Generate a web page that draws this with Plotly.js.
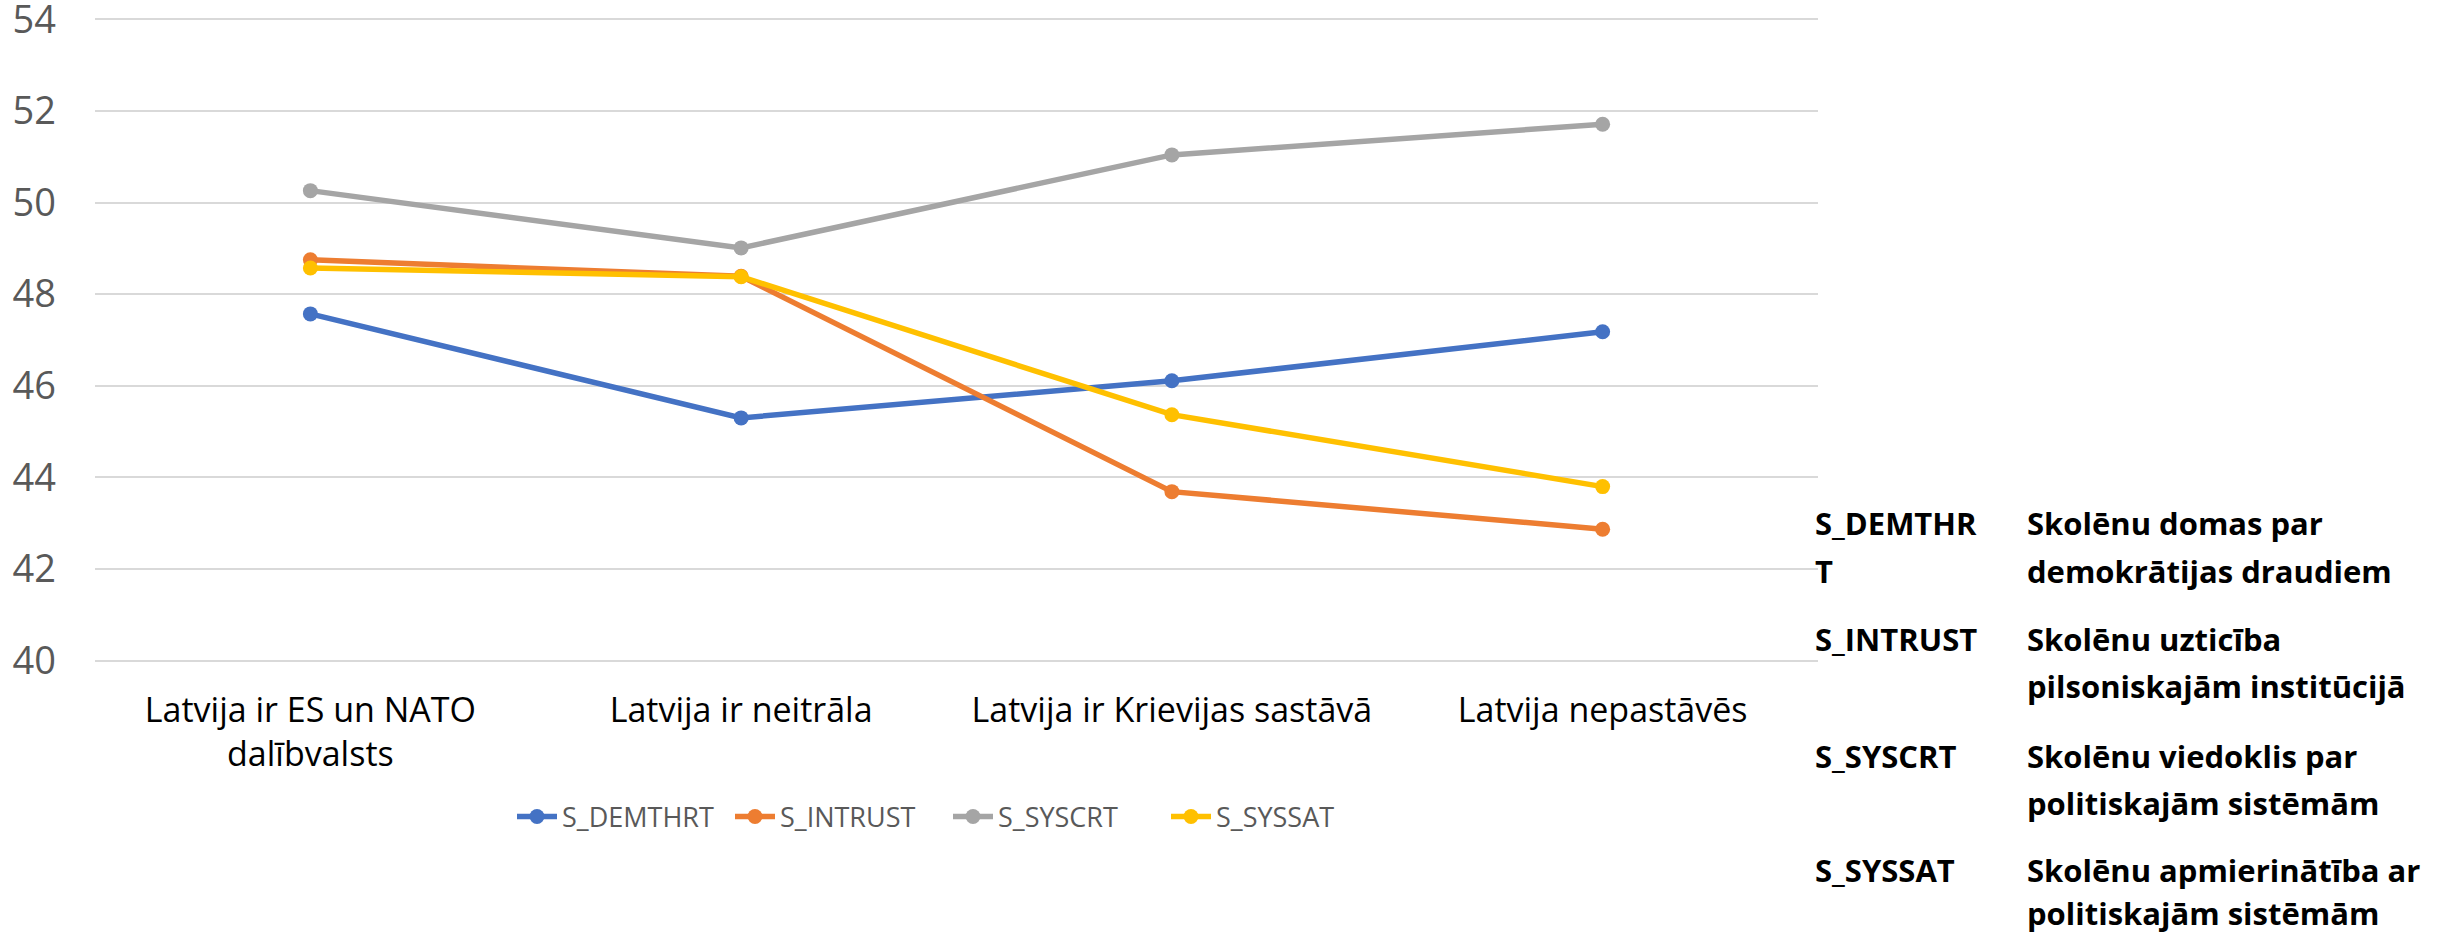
<!DOCTYPE html>
<html>
<head>
<meta charset="utf-8">
<script src="https://cdn.plot.ly/plotly-3.0.1.min.js"></script>
<style>
html,body{margin:0;padding:0;background:#fff;}
#chart{width:2437px;height:935px;}
</style>
</head>
<body>
<div id="chart"></div>
<script>
// ---- data ----
const categories = [
  "Latvija ir ES un NATO<br>dalībvalsts",
  "Latvija ir neitrāla",
  "Latvija ir Krievijas sastāvā",
  "Latvija nepastāvēs"
];
const seriesNames = ["S_DEMTHRT", "S_INTRUST", "S_SYSCRT", "S_SYSSAT"];
const S_DEMTHRT = [47.57, 45.30, 46.11, 47.18];
const S_INTRUST = [48.75, 48.39, 43.69, 42.87];
const S_SYSCRT  = [50.26, 49.01, 51.04, 51.71];
const S_SYSSAT  = [48.57, 48.38, 45.37, 43.80];
const yTicks = [40, 42, 44, 46, 48, 50, 52, 54];

const tableCodes = [["S_DEMTHR", "T"], ["S_INTRUST", ""], ["S_SYSCRT", ""], ["S_SYSSAT", ""]];
const tableDescs = [
  ["Skolēnu domas par", "demokrātijas draudiem"],
  ["Skolēnu uzticība", "pilsoniskajām institūcijā"],
  ["Skolēnu viedoklis par", "politiskajām sistēmām"],
  ["Skolēnu apmierinātība ar", "politiskajām sistēmām"]
];

// ---- styling ----
const colors = ["#4472C4", "#ED7D31", "#A5A5A5", "#FFC000"];
const values = [S_DEMTHRT, S_INTRUST, S_SYSCRT, S_SYSSAT];
const FONT = "'Open Sans', 'Noto Sans', sans-serif";

const W = 2437, H = 935;
const plotL = 95, plotR = 1818, plotT = 17, plotB = 663;
const px2x = p => (p - plotL) / (plotR - plotL);
const px2y = p => (plotB - p) / (plotB - plotT);

const traces = seriesNames.map((n, i) => ({
  type: "scatter",
  mode: "lines+markers",
  name: n,
  x: categories,
  y: values[i],
  line: {color: colors[i], width: 5.5},
  marker: {color: colors[i], size: 15},
  hoverinfo: "skip",
  cliponaxis: false
}));

const annotations = [];
const rowCenters = [[523, 571], [639, 686], [756, 803], [870, 913]];
const tblFont = {family: FONT, size: 31, color: "#000"};
tableCodes.forEach((lines, r) => {
  lines.forEach((t, k) => {
    if (!t) return;
    annotations.push({
      xref: "paper", yref: "paper",
      x: px2x(1813), y: px2y(rowCenters[r][k]),
      xanchor: "left", yanchor: "middle",
      text: "<b>" + t + "</b>", showarrow: false,
      font: tblFont
    });
  });
});
tableDescs.forEach((lines, r) => {
  lines.forEach((t, k) => {
    annotations.push({
      xref: "paper", yref: "paper",
      x: px2x(2025), y: px2y(rowCenters[r][k]),
      xanchor: "left", yanchor: "middle",
      text: "<b>" + t + "</b>", showarrow: false,
      font: tblFont
    });
  });
});

const layout = {
  width: W, height: H,
  paper_bgcolor: "#fff", plot_bgcolor: "#fff",
  margin: {l: plotL, r: W - plotR, t: plotT, b: H - plotB, pad: 0},
  showlegend: true,
  legend: {
    orientation: "h",
    x: px2x(948), xanchor: "center",
    y: px2y(817), yanchor: "middle",
    font: {family: FONT, size: 27, color: "#595959"},
    itemwidth: 40,
    entrywidth: 163,
    traceorder: "normal"
  },
  xaxis: {
    type: "category",
    range: [-0.5, categories.length - 0.5],
    showgrid: false,
    zeroline: false,
    showline: false,
    ticks: "",
    tickfont: {family: FONT, size: 34, color: "#000"},
    ticklabelstandoff: 24,
    fixedrange: true
  },
  yaxis: {
    range: [39.95, 54.05],
    tickvals: yTicks,
    ticktext: yTicks.map(String),
    showgrid: true,
    gridcolor: "#D9D9D9",
    gridwidth: 2,
    zeroline: false,
    showline: false,
    ticks: "",
    ticklabelstandoff: 38,
    ticklabeloverflow: "allow",
    tickfont: {family: FONT, size: 38, color: "#595959"},
    fixedrange: true
  },
  annotations: annotations
};

Plotly.newPlot("chart", traces, layout, {displayModeBar: false, staticPlot: true});
</script>
</body>
</html>
